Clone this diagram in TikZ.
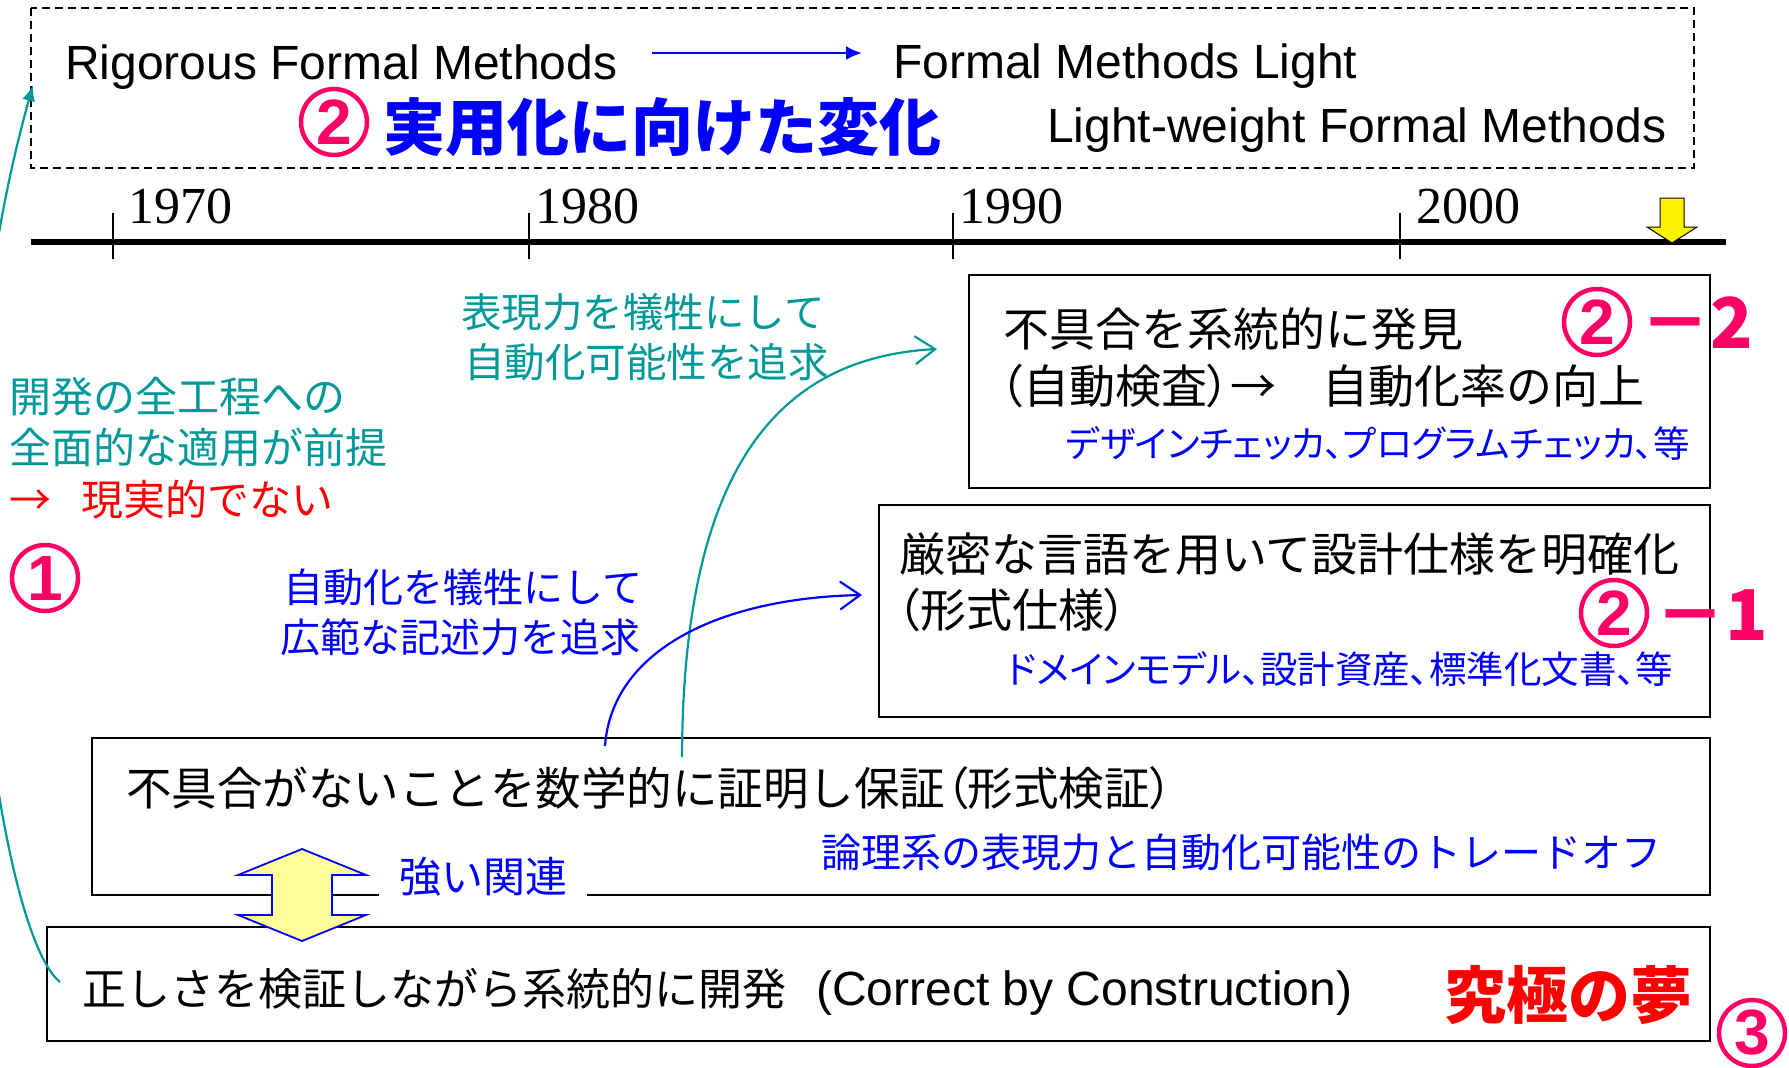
\documentclass[tikz,border=0pt]{standalone}
\usepackage{fontspec}
\setmainfont{Liberation Sans}
\newfontfamily\jp{Noto Sans CJK JP}
\newfontfamily\jpp[RawFeature=+palt]{Noto Sans CJK JP}
\newfontfamily\yearfont{Liberation Serif}
\usetikzlibrary{arrows.meta}
\definecolor{teal2}{RGB}{0,153,153}
\definecolor{myblue}{RGB}{0,0,255}
\definecolor{myred}{RGB}{255,0,0}
\definecolor{mypink}{RGB}{255,0,102}
\definecolor{ltyellow}{RGB}{255,255,153}
\newcommand{\fs}[1]{\fontsize{#1}{#1}\selectfont}
\newcommand{\lpar}{{\jpp （}}
\newcommand{\rpar}{{\jpp ）}}
\tikzset{
  box/.style={draw=black, line width=2pt, inner sep=0pt, anchor=north west},
  txt/.style={inner sep=0pt, anchor=base west},
  circnum/.style={circle, draw=mypink, line width=4.5pt, inner sep=0pt, minimum size=66pt, text=mypink, font=\bfseries\fs{64}},
  tickline/.style={line width=2pt},
  curve/.style={line width=2.2pt},
  barb/.style={-{Straight Barb[length=20pt,width=28pt,line width=2.2pt]}}
}
\begin{document}
\begin{tikzpicture}[x=1pt,y=-1pt]
\useasboundingbox (0,0) rectangle (1789,1068);
\fill[white] (0,0) rectangle (1789,1068);
% dashed frame
\draw[line width=1.5pt, dash pattern=on 8pt off 5pt] (31,8) rectangle (1694,168);
\node[txt, font=\fs{48}] (rfm) at (65,79) {Rigorous Formal Methods};
\node[txt, font=\fs{48}] (fml) at (893,78) {Formal Methods Light};
\node[txt, font=\fs{48}] (lwfm) at (1047,142) {Light-weight Formal Methods};
\coordinate (ar1) at (652,53);
\coordinate (ar2) at (862,53);
\draw[line width=2.5pt, myblue, -{Latex[length=16pt,width=14pt]}] (ar1) -- (ar2);
\node[circnum] (c2) at (334,122) {2};
\node[txt, font=\jp\bfseries\fs{62}, text=myblue] (title) at (383,150) {実用化に向けた変化};
% timeline
\draw[line width=6pt] (31,242) -- (1726,242);
\foreach \tx in {113,529,953,1400} \draw[tickline] (\tx,213) -- (\tx,259);
\node[txt, font=\yearfont\fs{52}] (y1970) at (128,223) {1970};
\node[txt, font=\yearfont\fs{52}] (y1980) at (535,223) {1980};
\node[txt, font=\yearfont\fs{52}] (y1990) at (959,223) {1990};
\node[txt, font=\yearfont\fs{52}] (y2000) at (1416,223) {2000};
\draw[fill=yellow, draw=black, line width=1pt] (1660,198) -- (1684,198) -- (1684,227) -- (1697,227) -- (1672,243) -- (1647,227) -- (1660,227) -- cycle;
% box 2-2
\node[box, minimum width=741pt, minimum height=213pt] (b22) at (968,274) {};
\node[txt, font=\jp\fs{46}] (t22a) at (1003,346) {不具合を系統的に発見};
\node[txt, font=\jp\fs{46}] (t22b) at (1000,403) {\lpar 自動検査\rpar →　自動化率の向上};
\node[txt, anchor=base east, font=\jpp\fs{36.5}, text=myblue] (t22c) at (1690,457) {デザインチェッカ、プログラムチェッカ、等};
\node[circnum] (c22) at (1597,322) {2};
\node[txt, font=\jp\bfseries\fs{70}, text=mypink] (n22) at (1640,348) {－2};
% box 2-1
\node[box, minimum width=831pt, minimum height=212pt] (b21) at (878,504) {};
\node[txt, font=\jp\fs{46}] (t21a) at (899,571) {厳密な言語を用いて設計仕様を明確化};
\node[txt, font=\jp\fs{46}] (t21b) at (897,627) {\lpar 形式仕様\rpar};
\node[txt, anchor=base east, font=\jpp\fs{37.5}, text=myblue] (t21c) at (1673,683) {ドメインモデル、設計資産、標準化文書、等};
\node[circnum] (c21) at (1614,613) {2};
\node[txt, font=\jp\bfseries\fs{70}, text=mypink] (n21) at (1655,640) {－1};
% free texts
\node[txt, font=\jp\fs{40.5}, text=teal2] (tA1) at (461,327) {表現力を犠牲にして};
\node[txt, font=\jp\fs{40.5}, text=teal2] (tA2) at (464,377) {自動化可能性を追求};
\node[txt, font=\jp\fs{42}, text=teal2] (tB1) at (9,412) {開発の全工程への};
\node[txt, font=\jp\fs{42}, text=teal2] (tB2) at (9,463) {全面的な適用が前提};
\node[txt, font=\jp\fs{42}, text=myred] (tB3) at (9,515) {→\hspace{30pt}現実的でない};
\node[circnum] (c1) at (45,578) {1};
\node[txt, font=\jp\fs{40}, text=myblue] (tC1) at (283,602) {自動化を犠牲にして};
\node[txt, font=\jp\fs{40}, text=myblue] (tC2) at (280,652) {広範な記述力を追求};
% box 1
\node[box, minimum width=1618pt, minimum height=157pt] (b1) at (91,737) {};
\node[txt, font=\jp\fs{45.5}] (t1a) at (126,805) {不具合がないことを数学的に証明し保証\lpar 形式検証\rpar};
\node[txt, font=\jp\fs{40}, text=myblue] (t1b) at (821,867) {論理系の表現力と自動化可能性のトレードオフ};
% box 0
\node[box, minimum width=1663pt, minimum height=114pt] (b0) at (46,926) {};
\node[txt, font=\jp\fs{44}] (t0a) at (82,1005) {正しさを検証しながら系統的に開発};
\node[txt, font=\fs{48}] (t0b) at (816,1005) {(Correct by Construction)};
\node[txt, font=\jp\bfseries\fs{62}, text=myred] (dream) at (1444,1018) {究極の夢};
\node[circnum] (c3) at (1752,1033) {3};
% strong relation
\node[txt, font=\jp\fs{42}, text=myblue, fill=white, inner xsep=20pt, inner ysep=3pt] (rel) at (379,892) {強い関連};
\draw[fill=ltyellow, draw=myblue, line width=1.8pt] (302,849) -- (366,875) -- (332,875) -- (332,915) -- (366,915) -- (302,941) -- (238,915) -- (272,915) -- (272,875) -- (238,875) -- cycle;
% curves
\coordinate (s1) at (60,982);
\coordinate (e1) at (33,85);
\draw[teal2, curve, -{Latex[length=16pt,width=13pt]}] (s1) .. controls (20,950) and (-20,750) .. (-25,520) .. controls (-25,300) and (15,150) .. (e1);
\coordinate (s2) at (682,757);
\coordinate (e2) at (937,349);
\draw[teal2, curve, barb] (s2) .. controls (683,480) and (770,358) .. (e2);
\coordinate (s3) at (605,746);
\coordinate (e3) at (862,595);
\draw[myblue, curve, barb] (s3) .. controls (612,650) and (720,598) .. (e3);
\end{tikzpicture}
\end{document}
